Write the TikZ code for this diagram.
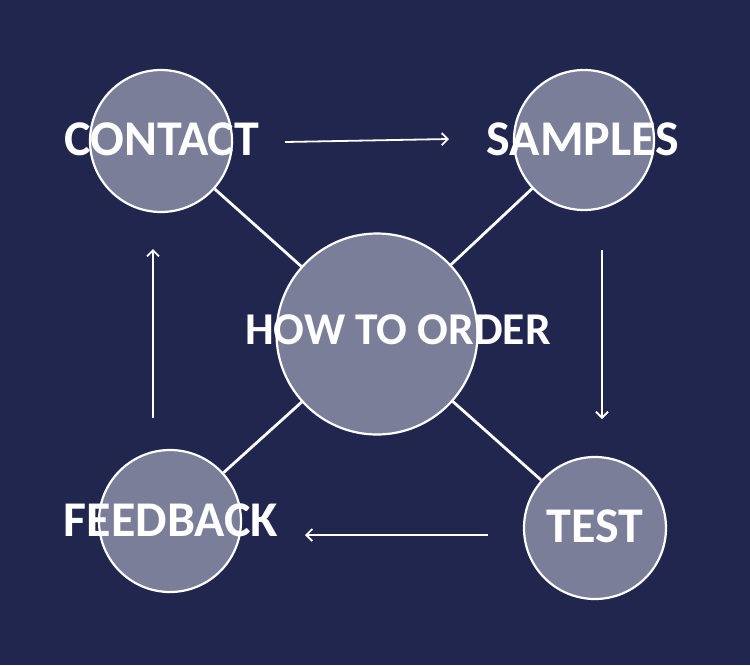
\documentclass[tikz,border=0pt]{standalone}
\usepackage{fontspec}
\setmainfont{Carlito}
\usetikzlibrary{arrows.meta}
\definecolor{bgnavy}{HTML}{21264F}
\definecolor{circfill}{HTML}{7A7E98}
\begin{document}
\begin{tikzpicture}[x=1pt,y=-1pt,
  bubble/.style={circle,draw=white,line width=2.2pt,fill=circfill,inner sep=0pt},
  label/.style={text=white,font=\bfseries\fontsize{50}{50}\selectfont,inner sep=0pt},
  spoke/.style={draw=white,line width=2.8pt},
  flow/.style={draw=white,line width=1.8pt,-{Straight Barb[length=6pt,width=12pt,line width=1.8pt]}}]
\fill[bgnavy] (0,0) rectangle (750,665);
\useasboundingbox (0,0) rectangle (750,665);
\node[bubble,minimum size=142pt] (contact) at (161,141) {};
\node[bubble,minimum size=140pt] (samples) at (584,140) {};
\node[bubble,minimum size=201pt] (center) at (377,334) {};
\node[bubble,minimum size=142pt] (feedback) at (170,521) {};
\node[bubble,minimum size=142pt] (test) at (595,528) {};
\draw[spoke] (center) -- (contact);
\draw[spoke] (center) -- (samples);
\draw[spoke] (center) -- (feedback);
\draw[spoke] (center) -- (test);
\node[label] (tcontact) at (162,139) {CONTACT};
\node[label] (tsamples) at (583,139) {SAMPLES};
\node[label,font=\bfseries\fontsize{45.5}{46}\selectfont] (tcenter) at (398,330) {HOW TO ORDER};
\node[label] (tfeedback) at (171,520) {FEEDBACK};
\node[label] (ttest) at (595,526) {TEST};
\coordinate (a1) at (285,142); \coordinate (a2) at (449,139);
\coordinate (b1) at (602,250); \coordinate (b2) at (602,419);
\coordinate (c1) at (488,535); \coordinate (c2) at (305,535);
\coordinate (d1) at (153,418); \coordinate (d2) at (153,249);
\draw[flow] (a1) -- (a2);
\draw[flow] (b1) -- (b2);
\draw[flow] (c1) -- (c2);
\draw[flow] (d1) -- (d2);
\end{tikzpicture}
\end{document}
